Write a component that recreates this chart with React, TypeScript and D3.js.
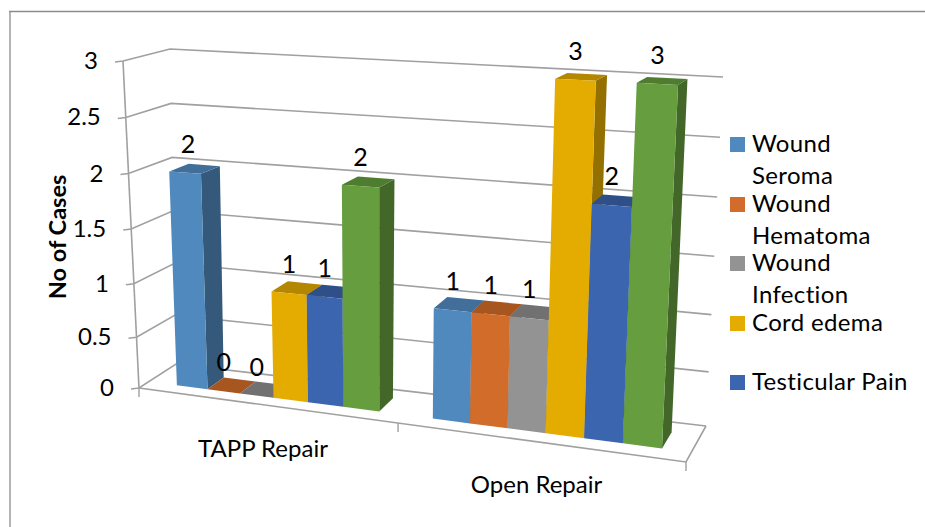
import React from "react";
import * as d3 from "d3";

const categories = ["TAPP Repair", "Open Repair"];
const seriesNames = ["Wound Seroma", "Wound Hematoma", "Wound Infection", "Cord edema", "Testicular Pain", "Other"];
const tappValues = [2, 0, 0, 1, 1, 2];
const openValues = [1, 1, 1, 3, 2, 3];
const frontColors = ["#5089bd", "#d26c2b", "#939393", "#e4ac00", "#3c65af", "#659d3f"];
const topColors = ["#416f99", "#a8561f", "#717171", "#b38700", "#2f4f88", "#4f7d2f"];
const sideColors = ["#34597b", "#8a4a1c", "#5c5c5c", "#947000", "#26406f", "#426729"];
const yTicks = [0, 0.5, 1, 1.5, 2, 2.5, 3];
const legendLines = [["Wound", "Seroma"], ["Wound", "Hematoma"], ["Wound", "Infection"], ["Cord edema"], ["Testicular Pain"]];
const legendTop = [137, 197, 256, 316, 375];

const W = 925, H = 527;
const FONT = "Lato, 'Open Sans', sans-serif";

// box corners of the 3D plot: [x, y]
const FBL = [139, 388], FBR = [686, 462], FTL = [123, 61], FTR = [704, 90];
const BBL = [176, 364], BBR = [706, 426], BTL = [170, 49], BTR = [723, 77];

const xPersp = d3.scalePow().exponent(1.11).domain([0, 1]).range([0, 1]);
const yPersp = d3.scalePow().exponent(1.04).domain([0, 3]).range([0, 1]);
const band = d3.scaleBand<string>().domain(categories).range([0, 1]).paddingInner(0.196).paddingOuter(0.1207).align(0.585);
const inner = d3.scaleBand<number>().domain(d3.range(6)).range([0, band.bandwidth()]);
const W0 = 0.27, W1 = 0.73;

const mix = (a: number, b: number, k: number) => a + (b - a) * k;
function P(t: number, v: number, w: number): [number, number] {
  const u = xPersp(t), f = yPersp(v);
  const pt = (i: number) => {
    const fb = mix(FBL[i], FBR[i], u), ft = mix(FTL[i], FTR[i], u);
    const bb = mix(BBL[i], BBR[i], u), bt = mix(BTL[i], BTR[i], u);
    return mix(mix(fb, ft, f), mix(bb, bt, f), w);
  };
  return [pt(0), pt(1)];
}
const line = d3.line();
const poly = (pts: [number, number][]) => line(pts)! + "Z";
const GRID = "#a0a0a0";
const midTick = (band(categories[0])! + band.bandwidth() + band(categories[1])!) / 2;

export default function App() {
  const bars: React.ReactNode[] = [];
  const labels: React.ReactNode[] = [];
  categories.forEach((cat, ci) => {
    const vals = ci === 0 ? tappValues : openValues;
    vals.forEach((v, si) => {
      const t0 = band(cat)! + inner(si)!;
      const t1 = t0 + inner.bandwidth();
      bars.push(
        <g key={`${ci}-${si}`}>
          <path d={poly([P(t1, 0, W0), P(t1, 0, W1), P(t1, v, W1), P(t1, v, W0)])} fill={sideColors[si]} />
          <path d={poly([P(t0, v, W0), P(t1, v, W0), P(t1, v, W1), P(t0, v, W1)])} fill={topColors[si]} />
          <path d={poly([P(t0, 0, W0), P(t1, 0, W0), P(t1, v, W0), P(t0, v, W0)])} fill={frontColors[si]} />
        </g>
      );
      const [a, b] = [P(t0, v, W0), P(t1, v, W0)];
      labels.push(
        <text key={`l${ci}-${si}`} x={(a[0] + b[0]) / 2 + (si === 0 && ci === 0 ? 3 : 0)} y={(a[1] + b[1]) / 2 - 20} textAnchor="middle" fontSize={25} fontFamily={FONT} fill="#000">
          {v}
        </text>
      );
    });
  });

  return (
    <svg width={W} height={H} viewBox={`0 0 ${W} ${H}`} style={{ position: "absolute", left: 0, top: 0 }}>
      <rect width={W} height={H} fill="#fff" />
      <path d={`M10 ${H}V11.5`} fill="none" stroke="#b4b4b4" strokeWidth={2} />
      <path d={`M9 11.5H${W}`} fill="none" stroke="#8c8c8c" strokeWidth={1.4} />
      {/* gridlines on back and side wall */}
      {yTicks.map((v) => (
        <path key={v} d={line([[P(0, v, 0)[0] - 8, P(0, v, 0)[1] + 1], P(0, v, 0), P(0, v, 1), P(1, v, 1)])!} fill="none" stroke={GRID} strokeWidth={1.6} />
      ))}
      {/* axes and floor */}
      <path d={line([P(0, 0, 0), P(0, 3, 0)])!} fill="none" stroke={GRID} strokeWidth={1.6} />
      <path d={line([P(0, 0, 0), P(1, 0, 0), P(1, 0, 1)])!} fill="none" stroke={GRID} strokeWidth={1.6} />
      {[0, midTick, 1].map((t) => (
        <path key={t} d={line([P(t, 0, 0), [P(t, 0, 0)[0], P(t, 0, 0)[1] + 9]])!} fill="none" stroke={GRID} strokeWidth={1.4} />
      ))}
      {bars}
      {labels}
      {yTicks.map((v) => (
        <text key={v} x={P(0, v, 0)[0] - 25} y={P(0, v, 0)[1] + 8} textAnchor="end" fontSize={24} fontFamily={FONT} fill="#000">
          {v}
        </text>
      ))}
      <text transform="translate(66,237) rotate(-90)" textAnchor="middle" fontSize={23.5} fontWeight={700} fontFamily={FONT} fill="#000">
        No of Cases
      </text>
      {categories.map((c, i) => (
        <text key={c} x={i === 0 ? 263 : 536.5} y={i === 0 ? 457 : 493} textAnchor="middle" fontSize={24} fontFamily={FONT} fill="#000">
          {c}
        </text>
      ))}
      {legendLines.map((lines, i) => (
        <g key={i}>
          <rect x={730} y={legendTop[i]} width={15} height={15} fill={frontColors[i]} />
          {lines.map((s, j) => (
            <text key={j} x={752} y={legendTop[i] + 15 + j * 32} fontSize={24} letterSpacing={0.35} fontFamily={FONT} fill="#000">
              {s}
            </text>
          ))}
        </g>
      ))}
    </svg>
  );
}
